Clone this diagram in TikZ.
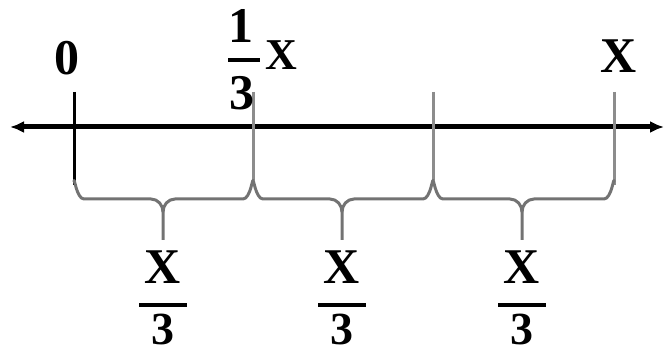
\documentclass[tikz,border=0pt]{standalone}
\usepackage{fontspec}
\setmainfont{Liberation Serif}
\usetikzlibrary{arrows.meta}
\tikzset{
  lbl/.style={inner sep=0pt, font=\bfseries\fontsize{50}{50}\selectfont},
  frac/.style={inner sep=0pt, font=\bfseries\fontsize{50}{50}\selectfont},
  axis/.style={line width=5pt},
  tickb/.style={line width=3pt, black},
  tickg/.style={line width=3pt, black!45},
  brace/.style={line width=3pt, black!55, line join=round}
}
\begin{document}
\begin{tikzpicture}[x=1pt,y=-1pt]
\useasboundingbox (0,0) rectangle (664,355);
% axis
\coordinate (L) at (10,127);
\coordinate (R) at (664,127);
\draw[axis, {Latex[length=14pt,width=12pt]}-{Latex[length=14pt,width=12pt]}] (L) -- (R);
% ticks
\coordinate (t0) at (74,92);
\coordinate (t1) at (253,92);
\coordinate (t2) at (433,92);
\coordinate (t3) at (614,92);
\draw[tickb] (t0) -- (74,185);
\draw[tickg] (t1) -- (253,180);
\draw[tickg] (t2) -- (433,180);
\draw[tickg] (t3) -- (614,185);
% braces
\foreach \a/\m/\b in {74/163/253, 253/342/433, 433/522/614}{
  \draw[brace] (\a,182) to[out=90,in=180] ++(10,17) -- (\m-12,199)
     to[out=0,in=90] (\m,212) -- (\m,240);
  \draw[brace] (\m,212) to[out=90,in=180] (\m+12,199) -- (\b-10,199)
     to[out=0,in=90] (\b,182);
}
% labels
\node[lbl] (zero) at (67,58) {0};
\node[lbl] (one) at (241,26) {1};
\draw[line width=4pt] (228,60) -- (260,60);
\node[lbl] (three) at (242,93) {3};
\node[lbl, font=\bfseries\fontsize{44}{44}\selectfont] (x1) at (281,55) {X};
\node[lbl] (xr) at (619,56) {X};
\foreach \c/\n in {163/a, 342/b, 522/c}{
  \node[frac] (x\n) at (\c,267) {X};
  \draw[line width=4pt] (\c-24,305) -- (\c+24,305);
  \node[frac, font=\bfseries\fontsize{46}{46}\selectfont, anchor=north] (d\n) at (\c,314) {3};
}
\end{tikzpicture}
\end{document}
